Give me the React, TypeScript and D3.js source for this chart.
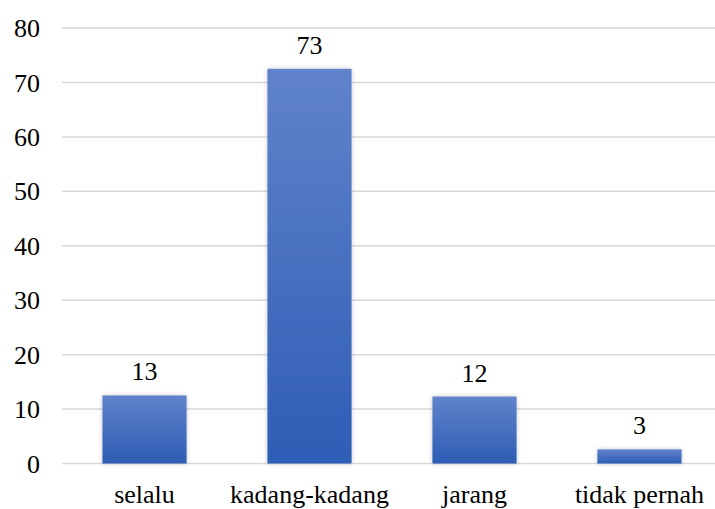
import React from "react";
import * as d3 from "d3";

const categories = ["selalu", "kadang-kadang", "jarang", "tidak pernah"];
const values = [12.5, 72.5, 12.3, 2.6];
const valueLabels = ["13", "73", "12", "3"];
const yTicks = [0, 10, 20, 30, 40, 50, 60, 70, 80];

const W = 715;
const H = 509;
const left = 62;
const right = 722;
const top = 28;
const bottom = 463.5;

export default function App() {
  const x = d3.scaleBand<string>().domain(categories).range([left, right]).paddingInner(0.49).paddingOuter(0.245);
  const y = d3.scaleLinear().domain([0, 80]).range([bottom, top]);
  const ts: React.CSSProperties = { fontFamily: "Liberation Serif", fontSize: "26px" };
  return (
    <svg width={W} height={H} style={{ position: "absolute", left: 0, top: 0 }}>
      <defs>
        <linearGradient id="barGrad" x1="0" y1="0" x2="0" y2="1">
          <stop offset="0" stopColor="#6083ca" />
          <stop offset="1" stopColor="#2e5db5" />
        </linearGradient>
        <filter id="glow" x="-20%" y="-20%" width="140%" height="140%">
          <feGaussianBlur in="SourceAlpha" stdDeviation="2.5" />
          <feComponentTransfer>
            <feFuncA type="linear" slope="0.22" />
          </feComponentTransfer>
          <feMerge>
            <feMergeNode />
            <feMergeNode in="SourceGraphic" />
          </feMerge>
        </filter>
      </defs>
      <rect width={W} height={H} fill="#fff" />
      {yTicks.map((t) => (
        <g key={t}>
          <line x1={left} x2={W} y1={y(t)} y2={y(t)} stroke="#d9d9d9" strokeWidth={1.5} />
          <text x={40} y={y(t)} dy="0.35em" textAnchor="end" style={ts} fill="#000">
            {t}
          </text>
        </g>
      ))}
      {categories.map((c, i) => (
        <g key={c}>
          <rect
            x={x(c)}
            y={y(values[i])}
            width={x.bandwidth()}
            height={y(0) - y(values[i])}
            fill="url(#barGrad)"
            filter="url(#glow)"
          />
          <text
            x={(x(c) as number) + x.bandwidth() / 2}
            y={y(values[i]) - 15}
            textAnchor="middle"
            style={ts}
            fill="#000"
          >
            {valueLabels[i]}
          </text>
          <text
            x={(x(c) as number) + x.bandwidth() / 2}
            y={503}
            textAnchor="middle"
            style={ts}
            fill="#000"
          >
            {c}
          </text>
        </g>
      ))}
    </svg>
  );
}
